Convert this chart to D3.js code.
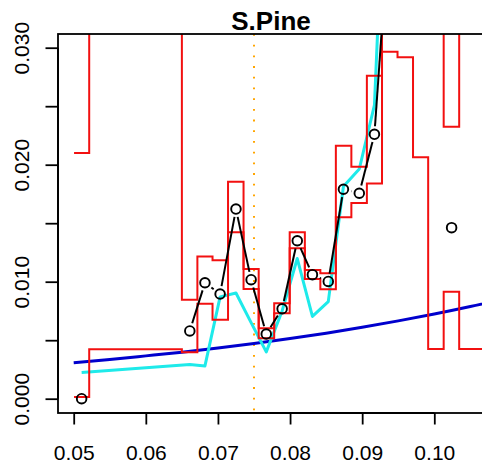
<!DOCTYPE html>
<html>
<head>
<meta charset="utf-8">
<script src="https://cdn.jsdelivr.net/npm/d3@7"></script>
<style>
  html, body { margin: 0; padding: 0; background: #fff; }
  svg { display: block; }
  text { font-family: "Liberation Sans", Arial, Helvetica, sans-serif; }
</style>
</head>
<body>
<script>
// Age grid (equally spaced classes)
const ages = [0.0511, 0.0532, 0.0554, 0.0575, 0.0597, 0.0618, 0.0639, 0.0661, 0.0682,
  0.0703, 0.0725, 0.0746, 0.0767, 0.0789, 0.0810, 0.0831, 0.0853, 0.0874, 0.0896,
  0.0917, 0.0938, 0.0960, 0.0981, 0.1002, 0.1024, 0.1045, 0.1067];

// Observed rate per class (null = no observation)
const observed = [0.0, null, null, null, null, null, null, 0.00579, 0.00991,
  0.00895, 0.01621, 0.01017, 0.00553, 0.00769, 0.0135, 0.0106, 0.01002, 0.0179, 0.01756,
  0.0226, 0.041, null, null, null, 0.01462, null, null];

// Smoothed rate per class
const smoothed = [0.00224, null, null, null, null, null, null, 0.00292, 0.0028,
  0.0087, 0.00903, 0.0065, 0.004, 0.0075, 0.01198, 0.00703, 0.0083, 0.01814, 0.01963,
  0.0251, 0.055, null, null, null, null, null, null];

// Lower and upper interval bounds per class
const lowerBound = [0.00015, 0.00422, 0.00422, 0.00422, 0.00422, 0.00422, 0.00422, 0.00397, 0.00812,
  0.00675, 0.01422, 0.00938, 0.00516, 0.0073, 0.01285, 0.01023, 0.00935, 0.0155, 0.01673,
  0.0184, 0.02966, 0.02918, 0.02063, 0.00425, 0.00915, 0.00425, 0.00425];
const upperBound = [0.021, 0.05, 0.05, 0.05, 0.05, 0.05, 0.05, 0.00846, 0.01215,
  0.01183, 0.01855, 0.01109, 0.00602, 0.00815, 0.01422, 0.011, 0.01072, 0.02162, 0.01983,
  0.0276, 0.05, 0.05, 0.05, 0.05, 0.02325, 0.05, 0.05];

// Parametric trend curve
const trendX = [0.050, 0.055, 0.060, 0.065, 0.070, 0.075, 0.080, 0.085, 0.090, 0.095, 0.100, 0.105, 0.110];
const trendY = [0.00308, 0.00335, 0.00366, 0.00398, 0.00434, 0.00472, 0.00514, 0.0056, 0.0061,
  0.00665, 0.00724, 0.00788, 0.00858];

// Reference age
const refAge = 0.075;

const xTicks = [0.05, 0.06, 0.07, 0.08, 0.09, 0.10];
const xTickLabels = ["0.05", "0.06", "0.07", "0.08", "0.09", "0.10"];
const yTicks = [0, 0.005, 0.01, 0.015, 0.02, 0.025, 0.03];
const yTickLabels = ["0.000", "", "0.010", "", "0.020", "", "0.030"];

const title = "S.Pine";

// ---- layout ----
const W = 482, H = 465;
const plot = { left: 58, top: 34, right: 484, bottom: 413 };

const svg = d3.select("body").append("svg").attr("width", W).attr("height", H);

const x = d3.scaleLinear().domain([0.05, 0.10]).range([73.7, 434.3]);
const y = d3.scaleLinear().domain([0, 0.03]).range([398.7, 47.7]);

svg.append("clipPath").attr("id", "plotclip")
  .append("rect")
  .attr("x", plot.left).attr("y", plot.top)
  .attr("width", plot.right - plot.left).attr("height", plot.bottom - plot.top);

const g = svg.append("g").attr("clip-path", "url(#plotclip)");

// reference age line
g.append("line")
  .attr("x1", x(refAge)).attr("x2", x(refAge))
  .attr("y1", plot.top).attr("y2", plot.bottom)
  .attr("stroke", "orange").attr("stroke-width", 2)
  .attr("stroke-dasharray", "1.8,8.9");

// trend curve
g.append("path")
  .datum(trendX.map((v, i) => [v, trendY[i]]))
  .attr("fill", "none").attr("stroke", "#0000CD").attr("stroke-width", 3)
  .attr("d", d3.line().x(d => x(d[0])).y(d => y(d[1])).curve(d3.curveMonotoneX));

// smoothed rate (drawn across gaps)
g.append("path")
  .datum(ages.map((a, i) => [a, smoothed[i]]).filter(d => d[1] !== null))
  .attr("fill", "none").attr("stroke", "#1EEAEA").attr("stroke-width", 3)
  .attr("stroke-linejoin", "round")
  .attr("d", d3.line().x(d => x(d[0])).y(d => y(d[1])));

// class edges for step bounds
const edges = ages.map((a, i) => i === 0 ? a - (ages[1] - ages[0]) / 2 : (ages[i - 1] + a) / 2);
edges.push(ages[ages.length - 1] + (ages[ages.length - 1] - ages[ages.length - 2]) / 2);

function stepData(vals) {
  const pts = vals.map((v, i) => [edges[i], v]);
  pts.push([edges[edges.length - 1], vals[vals.length - 1]]);
  return pts;
}
const stepLine = d3.line().x(d => x(d[0])).y(d => y(d[1])).curve(d3.curveStepAfter);

[lowerBound, upperBound].forEach(vals => {
  g.append("path")
    .datum(stepData(vals))
    .attr("fill", "none").attr("stroke", "#F21010").attr("stroke-width", 2)
    .attr("d", stepLine);
});

// observed: points joined by segments with gaps around each point
const pts = ages.map((a, i) => observed[i] === null ? null : [x(a), y(observed[i])]);
const gap = 8;
for (let i = 0; i < pts.length - 1; i++) {
  const p = pts[i], q = pts[i + 1];
  if (!p || !q) continue;
  const dx = q[0] - p[0], dy = q[1] - p[1];
  const len = Math.hypot(dx, dy);
  if (len <= 2 * gap) continue;
  const ux = dx / len, uy = dy / len;
  g.append("line")
    .attr("x1", p[0] + ux * gap).attr("y1", p[1] + uy * gap)
    .attr("x2", q[0] - ux * gap).attr("y2", q[1] - uy * gap)
    .attr("stroke", "#000").attr("stroke-width", 2);
}
g.selectAll("circle.obs")
  .data(pts.filter(p => p))
  .join("circle")
  .attr("class", "obs")
  .attr("cx", d => d[0]).attr("cy", d => d[1]).attr("r", 4.8)
  .attr("fill", "none").attr("stroke", "#000").attr("stroke-width", 1.9);

// frame
svg.append("rect")
  .attr("x", plot.left).attr("y", plot.top)
  .attr("width", plot.right - plot.left).attr("height", plot.bottom - plot.top)
  .attr("fill", "none").attr("stroke", "#000").attr("stroke-width", 1.8);

// x axis
const xAxis = d3.axisBottom(x).tickValues(xTicks).tickSize(11.5).tickPadding(21)
  .tickFormat((d, i) => xTickLabels[i]);
const xa = svg.append("g").attr("transform", `translate(0,${plot.bottom})`).call(xAxis);
xa.select(".domain").attr("d", `M${x(xTicks[0])},0H${x(xTicks[xTicks.length - 1])}`)
  .attr("stroke-width", 1.8);
xa.selectAll(".tick line").attr("stroke-width", 1.8);
xa.selectAll(".tick text").attr("font-size", 21).attr("fill", "#000")
  .attr("font-family", "Liberation Sans, Arial, sans-serif");

// y axis
const yAxis = d3.axisLeft(y).tickValues(yTicks).tickSize(12.5).tickPadding(14)
  .tickFormat((d, i) => yTickLabels[i]);
const ya = svg.append("g").attr("transform", `translate(${plot.left},0)`).call(yAxis);
ya.select(".domain").attr("d", `M0,${y(yTicks[0])}V${y(yTicks[yTicks.length - 1])}`)
  .attr("stroke-width", 1.8);
ya.selectAll(".tick line").attr("stroke-width", 1.8);
ya.selectAll(".tick text")
  .attr("font-size", 21).attr("fill", "#000")
  .attr("font-family", "Liberation Sans, Arial, sans-serif")
  .attr("text-anchor", "middle")
  .attr("x", null).attr("dy", null)
  .attr("transform", "translate(-29,0) rotate(-90)");

// title
svg.append("text")
  .attr("x", (plot.left + plot.right) / 2).attr("y", 30)
  .attr("text-anchor", "middle")
  .attr("font-size", 26).attr("font-weight", "bold")
  .text(title);
</script>
</body>
</html>
